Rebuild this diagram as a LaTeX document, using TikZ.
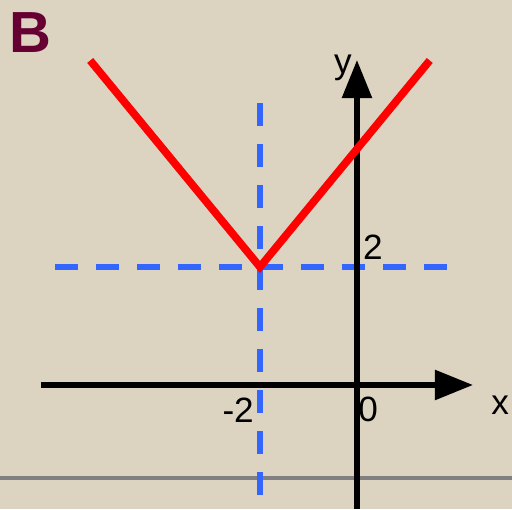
\documentclass[tikz,border=0pt]{standalone}
\usepackage{fontspec}
\setmainfont{Liberation Sans}
\usetikzlibrary{arrows.meta}
\definecolor{paper}{RGB}{220,212,192}
\definecolor{maroon}{RGB}{102,0,51}
\definecolor{guide}{RGB}{51,102,255}
\begin{document}
\begin{tikzpicture}[x=0.97cm,y=1.18cm,
  axis/.style={line width=3.1pt,-{Triangle[length=0.76cm,width=0.58cm]}},
  guideline/.style={guide,line width=3pt,dash pattern=on 0.46cm off 0.36cm},
  lbl/.style={font=\fontsize{20}{23}\selectfont,inner sep=0pt}]
\fill[paper] (-7.36,-2.102) rectangle (3.196,6.525);
\useasboundingbox (-7.36,-2.102) rectangle (3.196,6.525);
% floor line
\draw[gray,line width=2.4pt] (-7.36,-1.576) -- (3.196,-1.576);
% guides
\coordinate (hl) at (-6.227,2);
\coordinate (hr) at (2.082,2);
\coordinate (vt) at (-2,4.949);
\coordinate (vb) at (-2,-1.864);
\draw[guideline] (hl) -- (hr);
\draw[guideline] (vb) -- (vt);
% axes
\coordinate (xs) at (-6.515,0);
\coordinate (xe) at (2.392,0);
\coordinate (ys) at (0,-2.102);
\coordinate (ye) at (0,5.508);
\draw[axis] (xs) -- (xe);
\draw[axis] (ys) -- (ye);
% graph
\coordinate (left) at (-5.5,5.5);
\coordinate (vertex) at (-2,2);
\coordinate (right) at (1.5,5.5);
\draw[red,line width=4.4pt] (left) -- (vertex) -- (right);
% labels
\node[lbl] (ylab) at (-0.29,5.37) {y};
\node[lbl] (xlab) at (2.95,-0.34) {x};
\node[lbl] (two) at (0.33,2.34) {2};
\node[lbl] (mtwo) at (-2.45,-0.42) {-2};
\node[lbl] (zero) at (0.23,-0.42) {0};
\node[font=\fontsize{33}{36}\selectfont\bfseries,text=maroon,inner sep=0pt] (panel) at (-6.74,5.98) {B};
\end{tikzpicture}
\end{document}
